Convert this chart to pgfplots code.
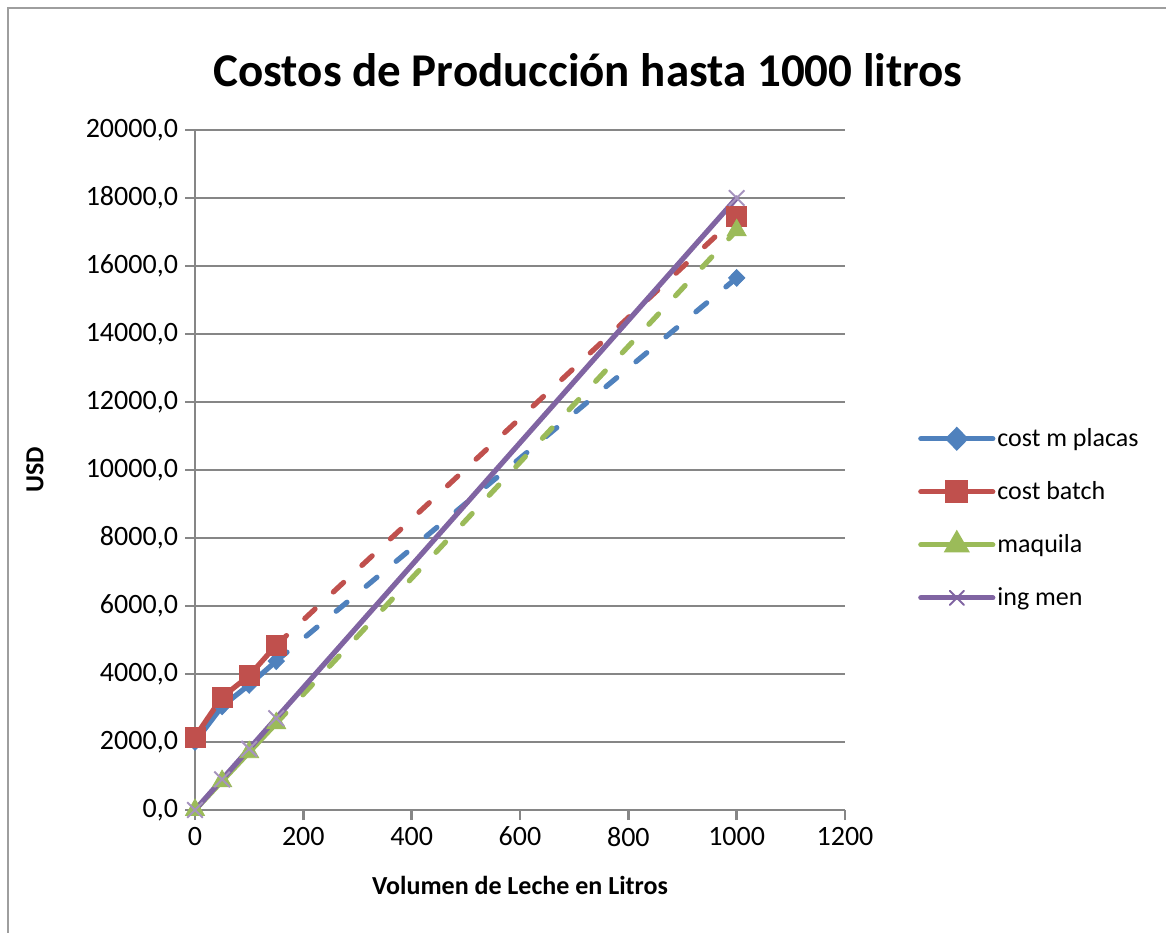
\documentclass[border=0pt]{standalone}
\usepackage{fontspec}
\setmainfont{Carlito}
\usepackage{pgfplots}
\pgfplotsset{compat=1.18}
\definecolor{cblue}{HTML}{4F81BD}
\definecolor{cred}{HTML}{C0504D}
\definecolor{cgreen}{HTML}{9BBB59}
\definecolor{cpurple}{HTML}{8064A2}
\definecolor{gridc}{HTML}{868686}
\begin{document}
\begin{tikzpicture}[x=0.5pt,y=0.5pt]
\useasboundingbox (0,0) rectangle (1166,932);
\draw[gridc!80, line width=1pt] (8,-20) -- (8,924) -- (1200,924);
\node[font=\fontsize{23.5}{28}\selectfont\bfseries] at (588,862) {Costos de Producción hasta 1000 litros};
\node[font=\fontsize{13}{15}\selectfont\bfseries, rotate=90] at (35,462) {USD};
\node[font=\fontsize{13}{15}\selectfont\bfseries] at (520,47) {Volumen de Leche en Litros};
\pgfplotsset{lw/.style={line width=2.6pt, line cap=round}, dsh/.style={dash pattern=on 7pt off 12.5pt}}
\begin{axis}[
  at={(97.5pt,61pt)}, anchor=south west,
  scale only axis, width=325pt, height=340pt,
  xmin=0, xmax=1200, ymin=0, ymax=20000,
  xtick={0,200,...,1200}, ytick={0,2000,...,20000},
  axis x line=bottom, axis y line=left,
  axis line style={gridc, line width=1.3pt, -},
  tick style={gridc, line width=1.3pt},
  major tick length=5pt, tick align=outside,
  ymajorgrids, grid style={gridc, line width=1.3pt},
  ticklabel style={font=\fontsize{14}{16}\selectfont},
  /pgf/number format/assume math mode=true,
  yticklabel style={/pgf/number format/fixed, /pgf/number format/fixed zerofill, /pgf/number format/precision=1, /pgf/number format/use comma, /pgf/number format/1000 sep={}},
  xticklabel style={/pgf/number format/fixed, /pgf/number format/1000 sep={}},
  scaled ticks=false,
  clip=false,
  legend style={at={(1.112,0.429)}, anchor=west, draw=none, fill=none,
    font=\fontsize{13}{15}\selectfont, row sep=14pt, inner sep=0pt,
    nodes={inner sep=1pt}},
  legend cell align=left,
  legend image code/.code={\draw[mark repeat=2,mark phase=2,#1] plot coordinates {(0pt,0pt) (18pt,0pt) (36pt,0pt)};},
]
% legend images
\addlegendimage{cblue, lw, mark=diamond*, mark size=4.2pt, mark options={solid, xscale=1.3}}
\addlegendentry{cost m placas}
\addlegendimage{cred, lw, mark=square*, mark size=4.5pt, mark options={solid}}
\addlegendentry{cost batch}
\addlegendimage{cgreen, lw, mark=triangle*, mark size=5pt, mark options={solid}}
\addlegendentry{maquila}
\addlegendimage{cpurple, lw, mark=x, mark size=5pt, mark options={solid, line width=1pt}}
\addlegendentry{ing men}
% cost m placas
\addplot[cblue, lw, forget plot] coordinates {(0,2000) (50,3050) (100,3680) (150,4380)};
\addplot[cblue, lw, dsh, forget plot] coordinates {(150,4380) (1000,15650)};
\addplot[cblue, only marks, mark=diamond*, mark size=4.2pt, mark options={xscale=1.3}, forget plot] coordinates {(0,2000) (50,3050) (100,3680) (150,4380) (1000,15650)};
% cost batch
\addplot[cred, lw, forget plot] coordinates {(0,2150) (50,3320) (100,3950) (150,4850)};
\addplot[cred, lw, dsh, forget plot] coordinates {(150,4850) (1000,17450)};
\addplot[cred, only marks, mark=square*, mark size=5pt, forget plot] coordinates {(0,2150) (50,3320) (100,3950) (150,4850) (1000,17450)};
% maquila
\addplot[cgreen, lw, forget plot] coordinates {(0,0) (50,850) (100,1700) (150,2550)};
\addplot[cgreen, lw, dsh, forget plot] coordinates {(150,2550) (1000,17050)};
\addplot[cgreen, only marks, mark=triangle*, mark size=5.5pt, forget plot] coordinates {(0,0) (50,850) (100,1700) (150,2550) (1000,17050)};
% ing men
\addplot[cpurple!70, only marks, mark=x, mark size=5.5pt, mark options={line width=1pt}, forget plot] coordinates {(0,0) (50,900) (100,1800) (150,2700) (1000,18000)};
\addplot[cpurple, lw, forget plot] coordinates {(0,0) (50,900) (100,1800) (150,2700) (1000,18000)};
\end{axis}
\end{tikzpicture}
\end{document}
